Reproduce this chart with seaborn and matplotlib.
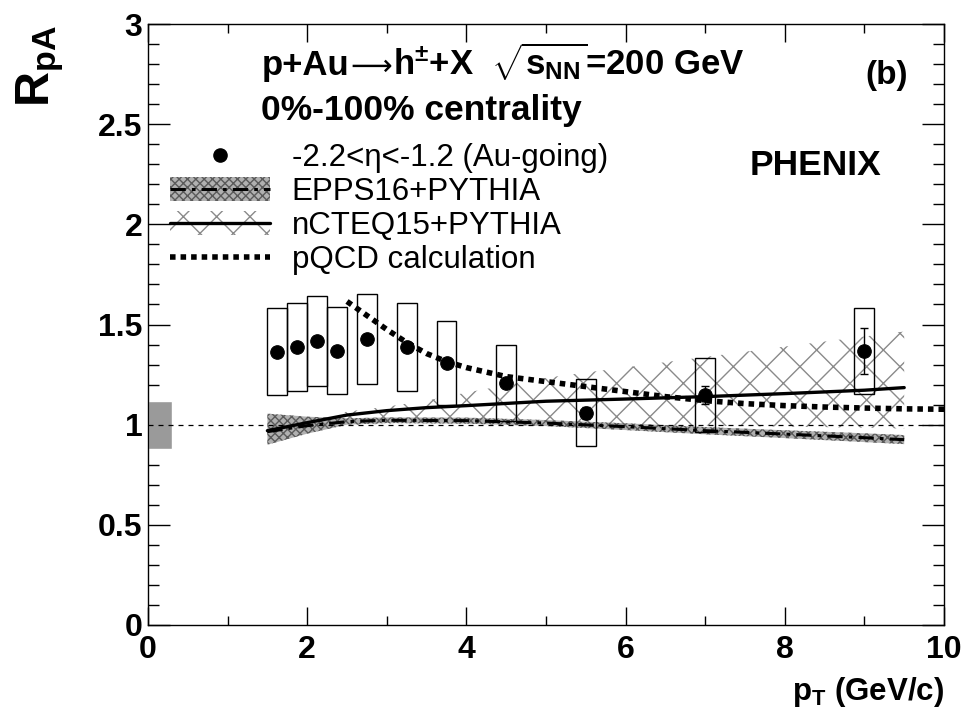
import matplotlib
matplotlib.use('Agg')
import matplotlib.pyplot as plt
import seaborn as sns
import numpy as np
from matplotlib.lines import Line2D
from matplotlib.patches import Patch
from matplotlib.ticker import MultipleLocator

# PHENIX p+Au, backward rapidity (Au-going) R_pA
pt = [1.625, 1.875, 2.125, 2.375, 2.75, 3.25, 3.75, 4.5, 5.5, 7.0, 9.0]
rpa = [1.364, 1.389, 1.419, 1.369, 1.426, 1.386, 1.310, 1.207, 1.060, 1.148, 1.368]
stat_err = [0.01, 0.01, 0.01, 0.01, 0.01, 0.01, 0.015, 0.02, 0.03, 0.043, 0.115]
sys_lo = [1.148, 1.170, 1.195, 1.153, 1.203, 1.167, 1.100, 1.020, 0.894, 0.963, 1.152]
sys_hi = [1.581, 1.609, 1.644, 1.586, 1.654, 1.606, 1.516, 1.396, 1.228, 1.333, 1.583]
norm_unc = 0.12

# EPPS16+PYTHIA
epps_pt = [1.5, 2.0, 2.5, 3.0, 4.0, 5.0, 6.0, 7.0, 8.0, 9.0, 9.5]
epps_mid = [0.965, 0.995, 1.015, 1.022, 1.020, 1.008, 0.990, 0.970, 0.953, 0.935, 0.925]
epps_lo = [0.900, 0.955, 1.000, 1.008, 1.005, 0.993, 0.973, 0.952, 0.933, 0.913, 0.903]
epps_hi = [1.055, 1.040, 1.032, 1.036, 1.035, 1.023, 1.007, 0.988, 0.972, 0.957, 0.948]

# nCTEQ15+PYTHIA
ncteq_pt = [1.5, 2.0, 2.5, 3.0, 3.5, 4.0, 5.0, 6.0, 7.0, 8.0, 9.0, 9.5]
ncteq_mid = [0.970, 1.010, 1.048, 1.070, 1.085, 1.095, 1.117, 1.128, 1.140, 1.155, 1.172, 1.185]
ncteq_lo = [0.950, 0.975, 0.995, 1.005, 1.010, 1.010, 1.010, 1.000, 0.995, 0.990, 0.985, 0.980]
ncteq_hi = [0.985, 1.020, 1.065, 1.090, 1.120, 1.160, 1.234, 1.286, 1.338, 1.390, 1.440, 1.465]

# pQCD calculation
pqcd_pt = [2.5, 2.75, 3.0, 3.25, 3.5, 3.75, 4.0, 4.5, 5.0, 5.5, 6.0, 6.5, 7.0, 7.5, 8.0, 8.5, 9.0, 9.5, 10.0]
pqcd_val = [1.615, 1.545, 1.475, 1.41, 1.355, 1.315, 1.285, 1.24, 1.215, 1.19, 1.165, 1.14,
            1.12, 1.105, 1.095, 1.088, 1.083, 1.079, 1.077]

legend_labels = ['-2.2<\u03b7<-1.2 (Au-going)', 'EPPS16+PYTHIA', 'nCTEQ15+PYTHIA', 'pQCD calculation']

sns.set_style('ticks')
plt.rcParams['font.family'] = ['Liberation Sans', 'DejaVu Sans']
plt.rcParams['mathtext.fontset'] = 'custom'
for k in ['rm', 'it', 'bf', 'sf']:
    plt.rcParams['mathtext.' + k] = 'Liberation Sans:bold'
for k in ['text.color', 'axes.labelcolor', 'xtick.color', 'ytick.color', 'axes.edgecolor']:
    plt.rcParams[k] = 'black'
plt.rcParams['hatch.linewidth'] = 1.0

fig = plt.figure(figsize=(9.68, 7.2), dpi=100)
ax = fig.add_axes([148 / 968, 95 / 720, 796 / 968, 601 / 720])

# theory bands
ax.fill_between(ncteq_pt, ncteq_lo, ncteq_hi, facecolor='none', edgecolor='#8a8a8a',
                hatch='x', linewidth=0, zorder=1)
ax.fill_between(epps_pt, epps_lo, epps_hi, facecolor='#b0b0b0', edgecolor='#5a5a5a',
                hatch='xxxx', linewidth=0, zorder=2)

sns.lineplot(x=ncteq_pt, y=ncteq_mid, ax=ax, color='black', lw=2.4, zorder=3)
sns.lineplot(x=epps_pt, y=epps_mid, ax=ax, color='black', lw=2.2,
             linestyle=(0, (5, 2, 1.2, 2)), zorder=3)
sns.lineplot(x=pqcd_pt, y=pqcd_val, ax=ax, color='black', lw=4.0,
             linestyle=(0, (1, 0.9)), zorder=4)

# reference line and normalization box
ax.axhline(1.0, color='black', lw=0.9, ls=(0, (4, 4)), zorder=2)
ax.bar(0.15, 2 * norm_unc, bottom=1 - norm_unc, width=0.3, color='#9a9a9a', zorder=1)

# data: systematic boxes, stat bars, points
sys_h = np.array(sys_hi) - np.array(sys_lo)
ax.bar(pt, sys_h, bottom=sys_lo, width=0.25, fill=False, edgecolor='black', lw=1.0, zorder=5)
ax.errorbar(pt, rpa, yerr=stat_err, fmt='none', ecolor='black', elinewidth=1.0,
            capsize=3, capthick=1.0, zorder=6)
sns.scatterplot(x=pt, y=rpa, ax=ax, color='black', edgecolor='black', s=95, zorder=7)

ax.set_xlim(0, 10)
ax.set_ylim(0, 3)
ax.xaxis.set_minor_locator(MultipleLocator(1))
ax.yaxis.set_minor_locator(MultipleLocator(0.1))
ax.set_xticks([0, 2, 4, 6, 8, 10])
ax.set_xticklabels(['0', '2', '4', '6', '8', '10'])
ax.set_yticks([0, 0.5, 1, 1.5, 2, 2.5, 3])
ax.set_yticklabels(['0', '0.5', '1', '1.5', '2', '2.5', '3'])
ax.tick_params(which='both', direction='in', top=True, right=True, width=1.0, color='black')
ax.tick_params(axis='y', which='major', length=16, pad=4)
ax.tick_params(axis='y', which='minor', length=8)
ax.tick_params(axis='x', which='major', length=13, pad=7)
ax.tick_params(axis='x', which='minor', length=6.5)
for lab in ax.get_xticklabels() + ax.get_yticklabels():
    lab.set_fontsize(23)
    lab.set_fontweight('bold')
for s in ax.spines.values():
    s.set_linewidth(1.0)

# axis titles
ax.text(-0.135, 0.998, 'R$_{pA}$', rotation=90, ha='center', va='top',
        transform=ax.transAxes, fontsize=35, fontweight='bold')
ax.text(1.0, -0.125, 'p$_{T}$ (GeV/c)', ha='right', va='baseline',
        transform=ax.transAxes, fontsize=22.5, fontweight='bold')

# header line, written in pieces so the arrow can come from DejaVu
renderer = fig.canvas.get_renderer()


def put(x, y, s, **kw):
    t = ax.text(x, y, s, va='baseline', **kw)
    bb = t.get_window_extent(renderer)
    return ax.transData.inverted().transform((bb.x1, bb.y0))[0]


x = put(1.43, 2.746, 'p+Au', fontsize=25, fontweight='bold')
x = put(x + 0.01, 2.746, '\u27f6', fontsize=21, family='DejaVu Sans')
x = put(x + 0.01, 2.746, 'h$^{\\pm}$+X  $\\sqrt{s_{NN}}$=200 GeV', fontsize=25, fontweight='bold')

ax.text(1.415, 2.52, '0%-100% centrality', fontsize=25.5, fontweight='bold', va='baseline')
ax.text(9.55, 2.70, '(b)', fontsize=24, fontweight='bold', va='baseline', ha='right')
ax.text(7.56, 2.247, 'PHENIX', fontsize=25.5, fontweight='bold', va='baseline')

# legend
h_data = Line2D([], [], ls='none', marker='o', color='black', markersize=9.5)
h_epps = (Patch(facecolor='#b0b0b0', edgecolor='#5a5a5a', hatch='xxxx', linewidth=0),
          Line2D([], [], color='black', lw=2.2, linestyle=(0, (5, 2, 1.2, 2))))
h_ncteq = (Patch(facecolor='none', edgecolor='#8a8a8a', hatch='x', linewidth=0),
           Line2D([], [], color='black', lw=2.4))
h_pqcd = Line2D([], [], color='black', lw=4.0, linestyle=(0, (1, 0.9)))
leg = ax.legend([h_data, h_epps, h_ncteq, h_pqcd], legend_labels,
                loc='upper left', bbox_to_anchor=(0.0276, 0.802), frameon=False,
                fontsize=22.5, handlelength=3.2, handleheight=0.8, handletextpad=0.7,
                labelspacing=0.13, borderpad=0, borderaxespad=0)

fig.savefig('out.png', dpi=100)
